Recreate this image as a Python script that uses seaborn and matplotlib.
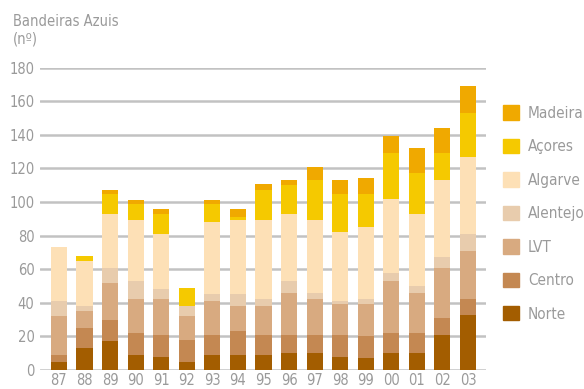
import matplotlib
matplotlib.use("Agg")
import matplotlib.pyplot as plt
import matplotlib.patches as mpatches
import numpy as np
import pandas as pd
import seaborn as sns

years = ["87", "88", "89", "90", "91", "92", "93", "94", "95",
         "96", "97", "98", "99", "00", "01", "02", "03"]

norte    = [5, 13, 17, 9, 8, 5, 9, 9, 9, 10, 10, 8, 7, 10, 10, 21, 33]
centro   = [4, 12, 13, 13, 13, 13, 12, 14, 12, 11, 11, 13, 13, 12, 12, 10, 9]
lvt      = [23, 10, 22, 20, 21, 14, 20, 15, 17, 25, 21, 18, 19, 31, 24, 30, 29]
alentejo = [9, 3, 9, 11, 6, 6, 4, 7, 4, 7, 4, 2, 3, 5, 4, 6, 10]
algarve  = [32, 27, 32, 36, 33, 0, 43, 44, 47, 40, 43, 41, 43, 44, 43, 46, 46]
acores   = [0, 3, 12, 10, 12, 11, 11, 2, 18, 17, 24, 23, 20, 27, 24, 16, 26]
madeira  = [0, 0, 2, 2, 3, 0, 2, 5, 4, 3, 8, 8, 9, 10, 15, 15, 16]

regions = ["Norte", "Centro", "LVT", "Alentejo", "Algarve", "Açores", "Madeira"]
colors = ["#A35D00", "#C48852", "#D8AA80", "#E8CCAD", "#FDE0B6", "#F5C900", "#F0A900"]
series = [norte, centro, lvt, alentejo, algarve, acores, madeira]

yticks = [0, 20, 40, 60, 80, 100, 120, 140, 160, 180]

sns.set_style("white")
plt.rcParams["font.family"] = ["DejaVu Sans"]
plt.rcParams["font.stretch"] = "condensed"

text_gray = "#9a9a9a"

fig = plt.figure(figsize=(5.84, 3.89), dpi=100)
ax = fig.add_axes([0.0685, 0.0488, 0.7635, 0.7774])

# stacked bars: draw cumulative totals from the top layer downwards
cum = np.cumsum(np.array(series), axis=0)
df = pd.DataFrame({"year": years})
for i in range(len(regions) - 1, -1, -1):
    df["total"] = cum[i]
    sns.barplot(data=df, x="year", y="total", order=years, color=colors[i],
                saturation=1, width=0.63, ax=ax, linewidth=0, zorder=3)

ax.set_xlim(-0.74, 16.7)
ax.set_ylim(0, 180)
ax.set_yticks(yticks)
ax.set_yticklabels([str(t) for t in yticks])
ax.set_xlabel("")
ax.set_ylabel("")

ax.yaxis.grid(True, color="#c2c2c2", linewidth=1.8, zorder=0)
ax.xaxis.grid(False)
ax.set_axisbelow(True)
for s in ax.spines.values():
    s.set_visible(False)
ax.tick_params(axis="both", length=0, labelsize=10.5, labelcolor=text_gray)
ax.tick_params(axis="y", pad=4)
ax.tick_params(axis="x", pad=2)

fig.text(0.022, 0.945, "Bandeiras Azuis", color=text_gray, fontsize=10.5,
         ha="left", va="center")
fig.text(0.022, 0.900, "(nº)", color=text_gray, fontsize=10.5,
         ha="left", va="center")

handles = [mpatches.Patch(color=colors[i], label=regions[i])
           for i in range(len(regions) - 1, -1, -1)]
leg = fig.legend(handles=handles, loc="upper left",
                 bbox_to_anchor=(0.861, 0.729), frameon=False,
                 fontsize=11, labelcolor=text_gray,
                 handlelength=1.05, handleheight=1.05, handletextpad=0.6,
                 labelspacing=1.19, borderaxespad=0, borderpad=0)

fig.savefig("out.png", dpi=100)
